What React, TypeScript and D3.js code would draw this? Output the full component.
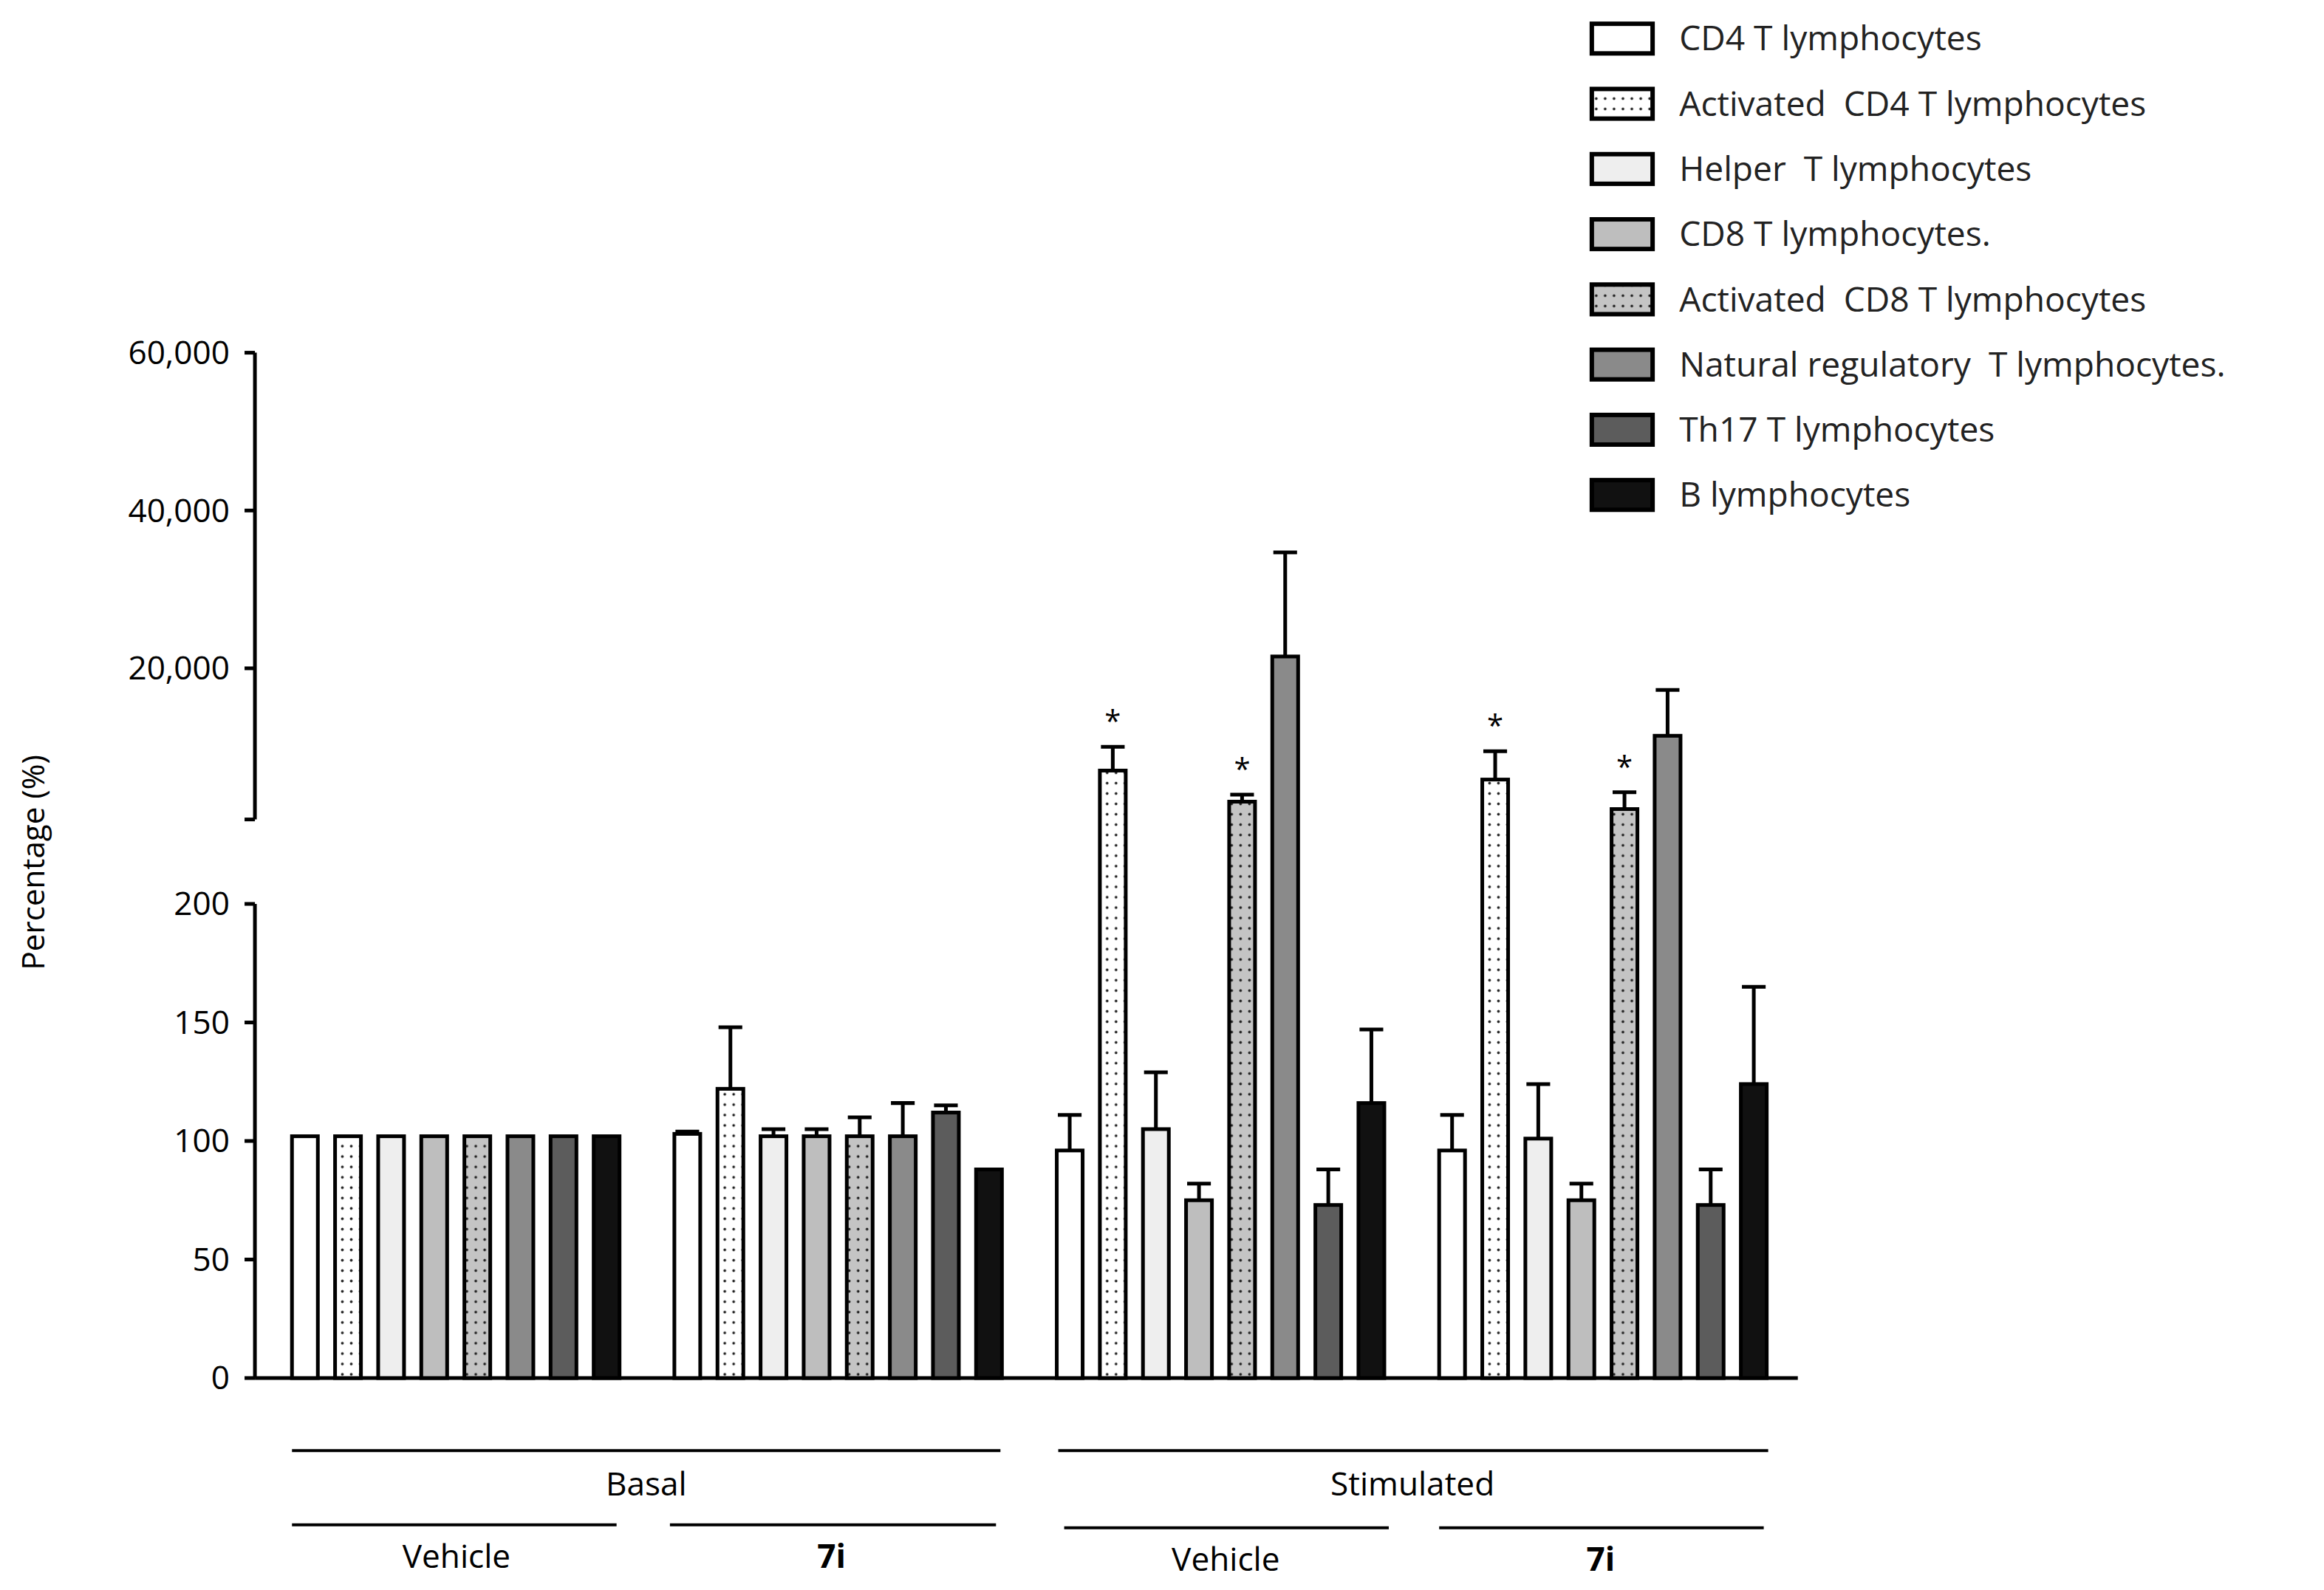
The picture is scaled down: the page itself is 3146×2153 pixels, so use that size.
import { useEffect } from "react";
import * as d3 from "d3";

const groups = ["Basal Vehicle", "Basal 7i", "Stimulated Vehicle", "Stimulated 7i"];
const cells = [
  "CD4 T lymphocytes",
  "Activated  CD4 T lymphocytes",
  "Helper  T lymphocytes",
  "CD8 T lymphocytes.",
  "Activated  CD8 T lymphocytes",
  "Natural regulatory  T lymphocytes.",
  "Th17 T lymphocytes",
  "B lymphocytes",
];
const fills = ["#ffffff", "#ffffff", "#eeeeee", "#bebebe", "#c4c4c4", "#8a8a8a", "#5c5c5c", "#111111"];
const dotted = [false, true, false, false, true, false, false, false];

// means and upper error caps per group, in cell order
const means = [
  [102, 102, 102, 102, 102, 102, 102, 102],
  [103, 122, 102, 102, 102, 102, 112, 88],
  [96, 7040, 105, 75, 3100, 21500, 73, 116],
  [96, 5900, 101, 75, 2160, 11450, 73, 124],
];
const caps = [
  [null, null, null, null, null, null, null, null],
  [104, 148, 105, 105, 110, 116, 115, null],
  [111, 10050, 129, 82, 4000, 34700, 88, 147],
  [111, 9500, 124, 82, 4300, 17250, 88, 165],
];
const stars = [
  [false, false, false, false, false, false, false, false],
  [false, false, false, false, false, false, false, false],
  [false, true, false, false, true, false, false, false],
  [false, true, false, false, true, false, false, false],
];
const lowTicks = [0, 50, 100, 150, 200];
const highTicks = [20000, 40000, 60000];

const font = "'Open Sans', 'Noto Sans', sans-serif";

export default function App() {
  useEffect(() => {
    document.body.style.margin = "0";
  }, []);

  const yLow = d3.scaleLinear().domain([0, 200]).range([930, 610]);
  const yHigh = d3.scaleLinear().domain([0, 60000]).range([557.5, 238]);
  const y = (v: number) => (v <= 200 ? yLow(v) : yHigh(v));

  const xg = d3.scaleBand<string>().domain(groups).range([197, 1229]).paddingInner(0).paddingOuter(0);
  const xi = d3.scaleBand<string>().domain(cells).range([0, 221]).padding(0.4).paddingOuter(0);

  return (
    <svg width={3146} height={2153} viewBox="0 0 1568 1073" style={{ display: "block", fontFamily: font }}>
      <defs>
        <pattern id="dotsW" width="6" height="7" patternUnits="userSpaceOnUse">
          <rect width="6" height="7" fill="#ffffff" />
          <circle cx="3" cy="3.5" r="0.9" fill="#222" />
        </pattern>
        <pattern id="dotsG" width="6" height="7" patternUnits="userSpaceOnUse">
          <rect width="6" height="7" fill="#c4c4c4" />
          <circle cx="3" cy="3.5" r="0.9" fill="#222" />
        </pattern>
      </defs>

      {/* axes */}
      <line x1={172} x2={1213} y1={930} y2={930} stroke="#000" strokeWidth={2.5} />
      <line x1={172} x2={172} y1={610} y2={930} stroke="#000" strokeWidth={2.5} />
      <line x1={172} x2={172} y1={238} y2={553} stroke="#000" strokeWidth={2.5} />
      <line x1={165} x2={172} y1={553} y2={553} stroke="#000" strokeWidth={2.5} />
      {lowTicks.map((t) => (
        <g key={t}>
          <line x1={165} x2={172} y1={yLow(t)} y2={yLow(t)} stroke="#000" strokeWidth={2.5} />
          <text x={155} y={yLow(t)} dy="0.35em" textAnchor="end" fontSize={22}>{t}</text>
        </g>
      ))}
      {highTicks.map((t) => (
        <g key={t}>
          <line x1={165} x2={172} y1={yHigh(t)} y2={yHigh(t)} stroke="#000" strokeWidth={2.5} />
          <text x={155} y={yHigh(t)} dy="0.35em" textAnchor="end" fontSize={22}>{d3.format(",")(t)}</text>
        </g>
      ))}
      <text transform="translate(30,582) rotate(-90)" textAnchor="middle" fontSize={21}>Percentage (%)</text>

      {/* bars */}
      {groups.map((g, gi) =>
        cells.map((c, ci) => {
          const x0 = xg(g)! + xi(c)!;
          const w = xi.bandwidth();
          const v = means[gi][ci];
          const cap = caps[gi][ci];
          const cx = x0 + w / 2;
          const fill = dotted[ci] ? (ci === 1 ? "url(#dotsW)" : "url(#dotsG)") : fills[ci];
          return (
            <g key={g + c}>
              {cap !== null && (
                <g stroke="#000" strokeWidth={2.5}>
                  <line x1={cx} x2={cx} y1={y(v)} y2={y(cap)} />
                  <line x1={cx - 8} x2={cx + 8} y1={y(cap)} y2={y(cap)} />
                </g>
              )}
              <rect x={x0} y={y(v)} width={w} height={930 - y(v)} fill={fill} stroke="#000" strokeWidth={2.5} />
              {stars[gi][ci] && (
                <text x={cx} y={y(cap ?? v) - 10} textAnchor="middle" fontSize={20}>*</text>
              )}
            </g>
          );
        })
      )}

      {/* group annotations */}
      <g stroke="#000" strokeWidth={2}>
        <line x1={197} x2={675} y1={979} y2={979} />
        <line x1={714} x2={1193} y1={979} y2={979} />
        <line x1={197} x2={416} y1={1029} y2={1029} />
        <line x1={452} x2={672} y1={1029} y2={1029} />
        <line x1={718} x2={937} y1={1031} y2={1031} />
        <line x1={971} x2={1190} y1={1031} y2={1031} />
      </g>
      <g fontSize={22} textAnchor="middle">
        <text x={436} y={1009}>Basal</text>
        <text x={953} y={1009}>Stimulated</text>
        <text x={308} y={1058}>Vehicle</text>
        <text x={561} y={1058} fontWeight="bold">7i</text>
        <text x={827} y={1060}>Vehicle</text>
        <text x={1080} y={1060} fontWeight="bold">7i</text>
      </g>

      {/* legend */}
      {cells.map((c, i) => {
        const cy = 26 + i * 44;
        const fill = dotted[i] ? (i === 1 ? "url(#dotsW)" : "url(#dotsG)") : fills[i];
        return (
          <g key={c}>
            <rect x={1074} y={cy - 10} width={41} height={20} fill={fill} stroke="#000" strokeWidth={3} />
            <text x={1133} y={cy} dy="0.35em" fontSize={23} fill="#222" style={{ whiteSpace: "pre" }}>{c}</text>
          </g>
        );
      })}
    </svg>
  );
}
